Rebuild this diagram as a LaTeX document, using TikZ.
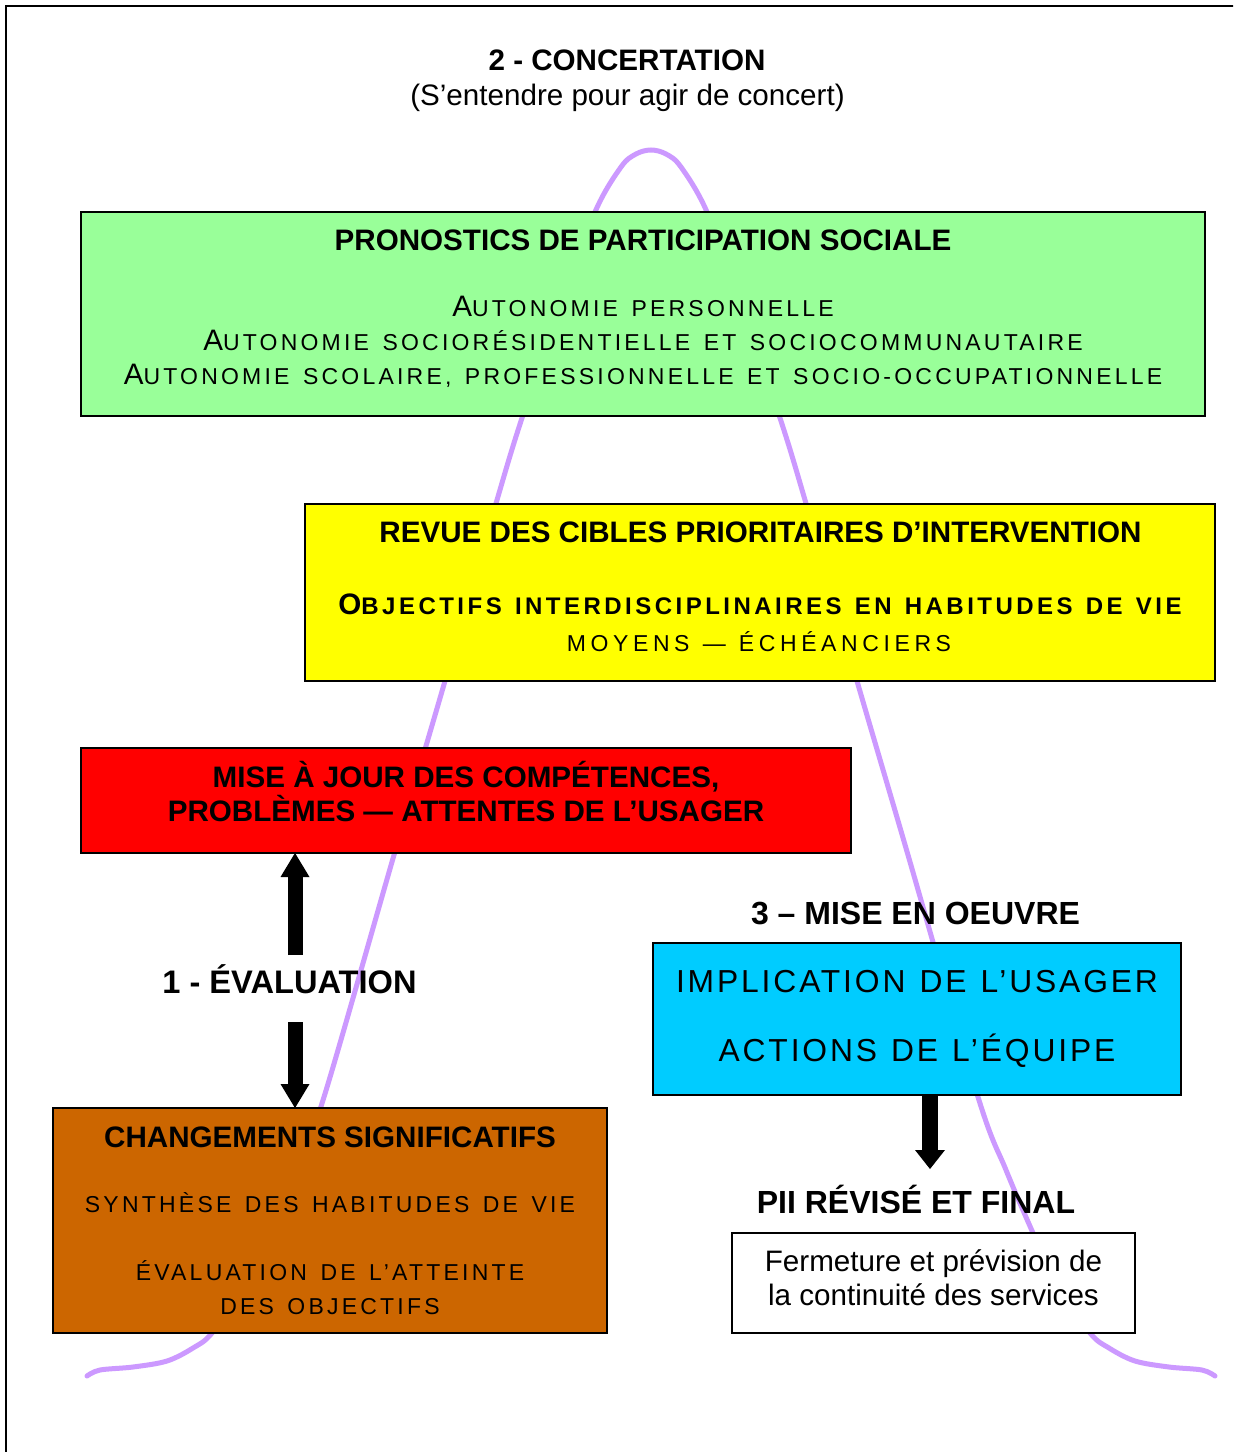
\documentclass[tikz,border=0pt]{standalone}
\usepackage{fontspec}
\setmainfont{Liberation Sans}
\newfontfamily\lsA[LetterSpace=14,WordSpace=1.4]{Liberation Sans}
\newfontfamily\lsB[LetterSpace=14.5,WordSpace=1.3]{Liberation Sans}
\newfontfamily\lsC[LetterSpace=20,WordSpace=1.2]{Liberation Sans}
\newfontfamily\lsD[LetterSpace=9,WordSpace=1.2]{Liberation Sans}
\usetikzlibrary{arrows.meta}
\definecolor{lilac}{HTML}{CC99FF}
\definecolor{gbox}{HTML}{99FF99}
\definecolor{ybox}{HTML}{FFFF00}
\definecolor{rbox}{HTML}{FF0000}
\definecolor{obox}{HTML}{CC6600}
\definecolor{cbox}{HTML}{00CCFF}
\newcommand\capL[1]{{\fontsize{14.8pt}{17pt}\selectfont #1}}
\tikzset{
  box/.style={draw=black, line width=1pt, inner sep=0pt, outer sep=0pt},
  lbl/.style={inner sep=0pt, anchor=base},
  hd/.style={lbl, font=\fontsize{14.8pt}{17pt}\selectfont\bfseries},
  hdb/.style={lbl, font=\fontsize{16pt}{19pt}\selectfont\bfseries},
  rg/.style={lbl, font=\fontsize{14.8pt}{17pt}\selectfont},
  scg/.style={lbl, font=\lsA\fontsize{11.5pt}{13pt}\selectfont},
  scy/.style={lbl, font=\lsB\bfseries\fontsize{12pt}{14pt}\selectfont},
  scm/.style={lbl, font=\lsC\fontsize{11.5pt}{13pt}\selectfont},
  scc/.style={lbl, font=\lsD\fontsize{15.9pt}{19pt}\selectfont},
  bell/.style={draw=lilac, line width=2.5pt, line cap=round},
  blk/.style={line width=7.5pt, -{Triangle[width=14.5pt,length=12pt,line width=0pt]}},
  blkc/.style={line width=7.75pt, -{Triangle[width=15pt,length=9.5pt,line width=0pt]}}
}
\begin{document}
\begin{tikzpicture}[x=0.5pt, y=-0.5pt]
\useasboundingbox (0,0) rectangle (1233,1452);
\fill[white] (0,0) rectangle (1233,1452);
\begin{scope}
\clip (0,0) rectangle (1233,1452);
\draw[line width=1pt] (6,1470) -- (6,6) -- (1250,6);
\end{scope}

% bell curve (background)
\draw[bell] plot[smooth, tension=0.55] coordinates {
 (87,1376) (100,1370) (133,1367) (167,1361) (193,1348) (212,1333) (245,1285)
 (269,1233) (296,1170) (324,1097) (394,855) (445,681) (497,500) (522,418)
 (561,305) (595,212) (621,167) (636,154) (651,150) (666,154) (681,167) (707,212)
 (741,305) (780,418) (805,500) (857,681) (908,855) (978,1097) (1006,1170)
 (1033,1233) (1057,1285) (1090,1333) (1109,1348) (1135,1361) (1169,1367)
 (1202,1370) (1215,1376)};

% titles
\node[hd] (t2) at (627,70.5) {2 - CONCERTATION};
\node[rg] (t2b) at (627.5,105) {(S’entendre pour agir de concert)};

% green box
\node[box, fill=gbox, minimum width=562pt, minimum height=102pt] (green) at (643,314) {};
\node[hd] (g0) at (643,250.5) {PRONOSTICS DE PARTICIPATION SOCIALE};
\node[scg] (g1) at (643,316) {\capL{A}UTONOMIE PERSONNELLE};
\node[scg] (g2) at (643,350) {\capL{A}UTONOMIE SOCIORÉSIDENTIELLE ET SOCIOCOMMUNAUTAIRE};
\node[scg] (g3) at (643,384) {\capL{A}UTONOMIE SCOLAIRE, PROFESSIONNELLE ET SOCIO-OCCUPATIONNELLE};

% yellow box
\node[box, fill=ybox, minimum width=455pt, minimum height=88.5pt] (yellow) at (760,592.5) {};
\node[hd] (y0) at (760.5,542.5) {REVUE DES CIBLES PRIORITAIRES D’INTERVENTION};
\node[scy] (y1) at (760,614) {\capL{O}BJECTIFS INTERDISCIPLINAIRES EN HABITUDES DE VIE};
\node[scm] (y2) at (759,651) {MOYENS — ÉCHÉANCIERS};

% red box
\node[box, fill=rbox, minimum width=385pt, minimum height=52.5pt] (red) at (466,800.5) {};
\node[hd] (r1) at (466,787.5) {MISE À JOUR DES COMPÉTENCES,};
\node[hd] (r2) at (466,821.5) {PROBLÈMES — ATTENTES DE L’USAGER};

% evaluation
\node[hdb, font=\fontsize{16.3pt}{19pt}\selectfont\bfseries] (ev) at (289.5,993) {1 - ÉVALUATION};

% orange box
\node[box, fill=obox, minimum width=277pt, minimum height=112.5pt] (orange) at (330,1220.5) {};
\node[hd] (o0) at (330,1147.5) {CHANGEMENTS SIGNIFICATIFS};
\node[scg] (o1) at (330,1212.5) {SYNTHÈSE DES HABITUDES DE VIE};
\node[scg] (o2) at (330,1280.5) {ÉVALUATION DE L’ATTEINTE};
\node[scg] (o3) at (330,1314.5) {DES OBJECTIFS};

% mise en oeuvre
\node[hdb] (mo) at (915.5,924) {3 – MISE EN OEUVRE};
\node[box, fill=cbox, minimum width=264pt, minimum height=76pt] (cyan) at (917,1019) {};
\node[scc] (c1) at (917,992) {IMPLICATION DE L’USAGER};
\node[scc] (c2) at (917,1061) {ACTIONS DE L’ÉQUIPE};

% PII
\node[hdb] (pii) at (916,1213) {PII RÉVISÉ ET FINAL};
\node[draw=black, line width=0.6pt, fill=white, inner sep=0pt, minimum width=201.5pt, minimum height=50pt] (white) at (933.5,1283) {};
\node[rg] (w1) at (933.5,1271) {Fermeture et prévision de};
\node[rg] (w2) at (933.5,1305) {la continuité des services};

% block arrows
\coordinate (up0) at (295,955);
\coordinate (dn0) at (295,1022);
\coordinate (pend) at (930,1169);
\draw[blk] (up0) -- (up0 |- red.south);
\draw[blk] (dn0) -- (dn0 |- orange.north);
\draw[blkc] (pend |- cyan.south) -- (pend);
\end{tikzpicture}
\end{document}
